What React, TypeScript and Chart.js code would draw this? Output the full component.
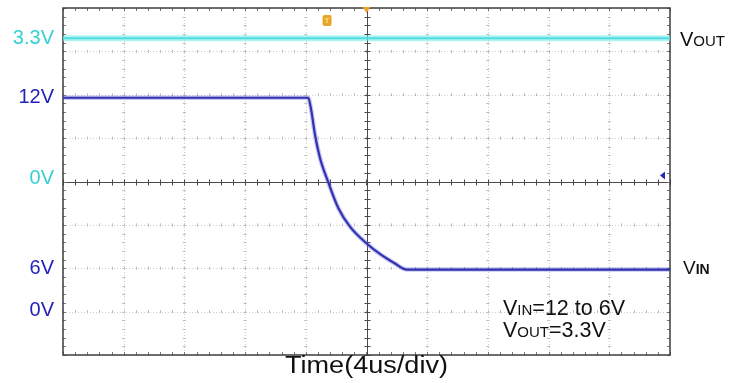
import React, { useEffect, useRef } from "react";
import { Chart, registerables } from "chart.js";

Chart.register(...registerables);

// Time axis: 10 divisions of 4 us
const timeRangeUs = [0, 40];
const timeDivUs = 4;

// VOUT channel (1 V/div, 0 V at screen centre)
const voutRange = [-4, 4];
const voutTimeUs = [0, 10, 20, 30, 40];
const voutVolts = [3.3, 3.3, 3.3, 3.3, 3.3];

// VIN channel (screen range chosen so 12 V and 6 V sit where they are drawn)
const vinRange = [3.015, 15.135];
const vinTimeUs = [0, 16.16, 16.34, 16.61, 16.94, 17.48, 18.14, 18.91, 20.01, 21.0, 21.88, 22.42, 22.7, 40];
const vinVolts = [12.0, 12.0, 11.62, 10.7, 9.89, 9.05, 8.15, 7.5, 6.91, 6.5, 6.21, 6.03, 6.0, 6.0];

// Labels on the left of the screen
const leftLabels = ["3.3V", "12V", "0V", "6V", "0V"];
const leftLabelAxis = ["yOut", "yIn", "yOut", "yIn", "yOut"];
const leftLabelValue = [3.3, 12, 0.08, 6.02, -2.97];
const leftLabelColor = ["#35d0d4", "#2323b8", "#35d0d4", "#2323b8", "#2323b8"];

const FONT = "'Liberation Sans', Arial, sans-serif";

const scopePlugin = {
  id: "scope",
  beforeDatasetsDraw(chart: any) {
    const { ctx, chartArea: a, scales } = chart;
    const xs = scales.x;
    const ys = scales.yOut;
    const xDivs: number[] = [];
    for (let t = timeRangeUs[0]; t <= timeRangeUs[1] + 1e-6; t += timeDivUs) xDivs.push(xs.getPixelForValue(t));
    const yDivs: number[] = [];
    for (let v = voutRange[0]; v <= voutRange[1] + 1e-6; v += 1) yDivs.push(ys.getPixelForValue(v));
    const dx = (xDivs[1] - xDivs[0]) / 5;
    const dy = (yDivs[0] - yDivs[1]) / 5;
    ctx.save();
    // dotted grid
    ctx.strokeStyle = "#cfcfcf";
    ctx.lineWidth = 1;
    ctx.setLineDash([1, 2]);
    xDivs.slice(1, -1).forEach((x) => {
      ctx.beginPath();
      ctx.moveTo(Math.round(x) + 0.5, a.top);
      ctx.lineTo(Math.round(x) + 0.5, a.bottom);
      ctx.stroke();
    });
    yDivs.slice(1, -1).forEach((y) => {
      ctx.beginPath();
      ctx.moveTo(a.left, Math.round(y) + 0.5);
      ctx.lineTo(a.right, Math.round(y) + 0.5);
      ctx.stroke();
    });
    ctx.setLineDash([]);
    // small ticks on grid lines
    ctx.strokeStyle = "#bdbdbd";
    xDivs.slice(1, -1).forEach((x) => {
      for (let y = a.top; y <= a.bottom; y += dy) {
        ctx.beginPath();
        ctx.moveTo(x - 1.5, Math.round(y) + 0.5);
        ctx.lineTo(x + 1.5, Math.round(y) + 0.5);
        ctx.stroke();
      }
    });
    yDivs.slice(1, -1).forEach((y) => {
      for (let x = a.left; x <= a.right; x += dx) {
        ctx.beginPath();
        ctx.moveTo(Math.round(x) + 0.5, y - 1.5);
        ctx.lineTo(Math.round(x) + 0.5, y + 1.5);
        ctx.stroke();
      }
    });
    // centre cross
    const cx = Math.round(xs.getPixelForValue((timeRangeUs[0] + timeRangeUs[1]) / 2)) + 0.5;
    const cy = Math.round(ys.getPixelForValue(0)) + 0.5;
    ctx.strokeStyle = "#4a4a4a";
    ctx.lineWidth = 1;
    ctx.beginPath();
    ctx.moveTo(cx, a.top);
    ctx.lineTo(cx, a.bottom);
    ctx.moveTo(a.left, cy);
    ctx.lineTo(a.right, cy);
    ctx.stroke();
    ctx.beginPath();
    for (let y = a.top; y <= a.bottom + 0.1; y += dy) {
      ctx.moveTo(cx - 3, Math.round(y) + 0.5);
      ctx.lineTo(cx + 3, Math.round(y) + 0.5);
    }
    for (let x = a.left; x <= a.right + 0.1; x += dx) {
      ctx.moveTo(Math.round(x) + 0.5, cy - 3);
      ctx.lineTo(Math.round(x) + 0.5, cy + 3);
    }
    ctx.stroke();
    // frame ticks
    ctx.strokeStyle = "#777";
    ctx.beginPath();
    for (let x = a.left; x <= a.right + 0.1; x += dx) {
      ctx.moveTo(Math.round(x) + 0.5, a.top);
      ctx.lineTo(Math.round(x) + 0.5, a.top + 3);
      ctx.moveTo(Math.round(x) + 0.5, a.bottom);
      ctx.lineTo(Math.round(x) + 0.5, a.bottom - 3);
    }
    for (let y = a.top; y <= a.bottom + 0.1; y += dy) {
      ctx.moveTo(a.left, Math.round(y) + 0.5);
      ctx.lineTo(a.left + 3, Math.round(y) + 0.5);
      ctx.moveTo(a.right, Math.round(y) + 0.5);
      ctx.lineTo(a.right - 3, Math.round(y) + 0.5);
    }
    ctx.stroke();
    // frame
    ctx.strokeStyle = "#3c3c3c";
    ctx.lineWidth = 1.5;
    ctx.strokeRect(a.left, a.top, a.right - a.left, a.bottom - a.top);
    ctx.restore();
  },
  afterDraw(chart: any) {
    const { ctx, chartArea: a, scales } = chart;
    const xs = scales.x;
    ctx.save();
    // left channel labels
    ctx.textAlign = "right";
    ctx.textBaseline = "middle";
    ctx.font = `20px ${FONT}`;
    leftLabels.forEach((lbl, i) => {
      ctx.fillStyle = leftLabelColor[i];
      ctx.fillText(lbl, a.left - 9, scales[leftLabelAxis[i]].getPixelForValue(leftLabelValue[i]));
    });
    // V + subscript-like caps
    const drawV = (x: number, y: number, sub: string, rest: string, big: number, small: number, bold = false) => {
      ctx.textAlign = "left";
      ctx.textBaseline = "alphabetic";
      ctx.fillStyle = "#111";
      ctx.font = `${big}px ${FONT}`;
      ctx.fillText("V", x, y);
      let w = ctx.measureText("V").width;
      ctx.font = `${bold ? "bold " : ""}${small}px ${FONT}`;
      ctx.fillText(sub, x + w, y);
      w += ctx.measureText(sub).width;
      if (rest) {
        ctx.font = `${big}px ${FONT}`;
        ctx.fillText(rest, x + w, y);
      }
    };
    drawV(a.right + 10, scales.yOut.getPixelForValue(3.3) + 8, "OUT", "", 20, 15);
    drawV(a.right + 13, scales.yIn.getPixelForValue(6) + 4, "IN", "", 19, 14, true);
    drawV(a.left + 440, a.top + 307, "IN", "=12 to 6V", 21.5, 15);
    drawV(a.left + 440, a.top + 329, "OUT", "=3.3V", 21.5, 15);
    // x axis title
    ctx.font = `23px ${FONT}`;
    const title = "Time(4us/div)";
    const tw = ctx.measureText(title).width;
    const sx = 163 / tw;
    ctx.translate((a.left + a.right) / 2, a.bottom + 18);
    ctx.scale(sx, 1);
    ctx.fillStyle = "#111";
    ctx.textAlign = "center";
    ctx.textBaseline = "alphabetic";
    ctx.fillText(title, 0, 0);
    ctx.setTransform(1, 0, 0, 1, 0, 0);
    // trigger marker "T"
    const tx = xs.getPixelForValue(17.4);
    ctx.fillStyle = "#e9a52a";
    ctx.beginPath();
    ctx.roundRect(tx - 4.5, a.top + 7, 9, 11, 2);
    ctx.fill();
    ctx.fillStyle = "#f8e27a";
    ctx.font = `bold 8px ${FONT}`;
    ctx.textAlign = "center";
    ctx.textBaseline = "middle";
    ctx.fillText("T", tx, a.top + 12.5);
    // trigger position triangle
    const cx = xs.getPixelForValue(20);
    ctx.fillStyle = "#e9a52a";
    ctx.beginPath();
    ctx.moveTo(cx - 4, a.top - 1);
    ctx.lineTo(cx + 4, a.top - 1);
    ctx.lineTo(cx, a.top + 5);
    ctx.closePath();
    ctx.fill();
    // channel ground marker
    const gy = scales.yOut.getPixelForValue(0) - 6;
    ctx.fillStyle = "#2a2ab8";
    ctx.beginPath();
    ctx.moveTo(a.right - 10, gy);
    ctx.lineTo(a.right - 5, gy - 4);
    ctx.lineTo(a.right - 5, gy + 4);
    ctx.closePath();
    ctx.fill();
    ctx.restore();
  },
};

export default function App() {
  const ref = useRef<HTMLCanvasElement | null>(null);
  useEffect(() => {
    if (!ref.current) return;
    const vout = voutTimeUs.map((t, i) => ({ x: t, y: voutVolts[i] }));
    const vin = vinTimeUs.map((t, i) => ({ x: t, y: vinVolts[i] }));
    const chart = new Chart(ref.current, {
      type: "line",
      data: {
        datasets: [
          { label: "VOUT halo", data: vout, yAxisID: "yOut", borderColor: "rgba(110,232,232,0.55)", borderWidth: 6, pointRadius: 0 },
          { label: "VOUT", data: vout, yAxisID: "yOut", borderColor: "#2fd3d8", borderWidth: 2, pointRadius: 0 },
          { label: "VIN halo", data: vin, yAxisID: "yIn", borderColor: "rgba(90,90,220,0.35)", borderWidth: 4.5, pointRadius: 0, cubicInterpolationMode: "monotone" },
          { label: "VIN", data: vin, yAxisID: "yIn", borderColor: "#1e1e9a", borderWidth: 2.2, pointRadius: 0, cubicInterpolationMode: "monotone" },
        ],
      },
      options: {
        responsive: false,
        animation: false,
        layout: { padding: { left: 63, top: 8, right: 73, bottom: 28 } },
        scales: {
          x: { type: "linear", min: timeRangeUs[0], max: timeRangeUs[1], display: false },
          yOut: { type: "linear", min: voutRange[0], max: voutRange[1], display: false },
          yIn: { type: "linear", min: vinRange[0], max: vinRange[1], display: false },
        },
        plugins: { legend: { display: false }, tooltip: { enabled: false } },
      },
      plugins: [scopePlugin],
    });
    return () => chart.destroy();
  }, []);
  return (
    <div style={{ position: "absolute", left: 0, top: 0, width: 743, height: 383, background: "#fff" }}>
      <canvas ref={ref} width={743} height={383} style={{ display: "block" }} />
    </div>
  );
}
